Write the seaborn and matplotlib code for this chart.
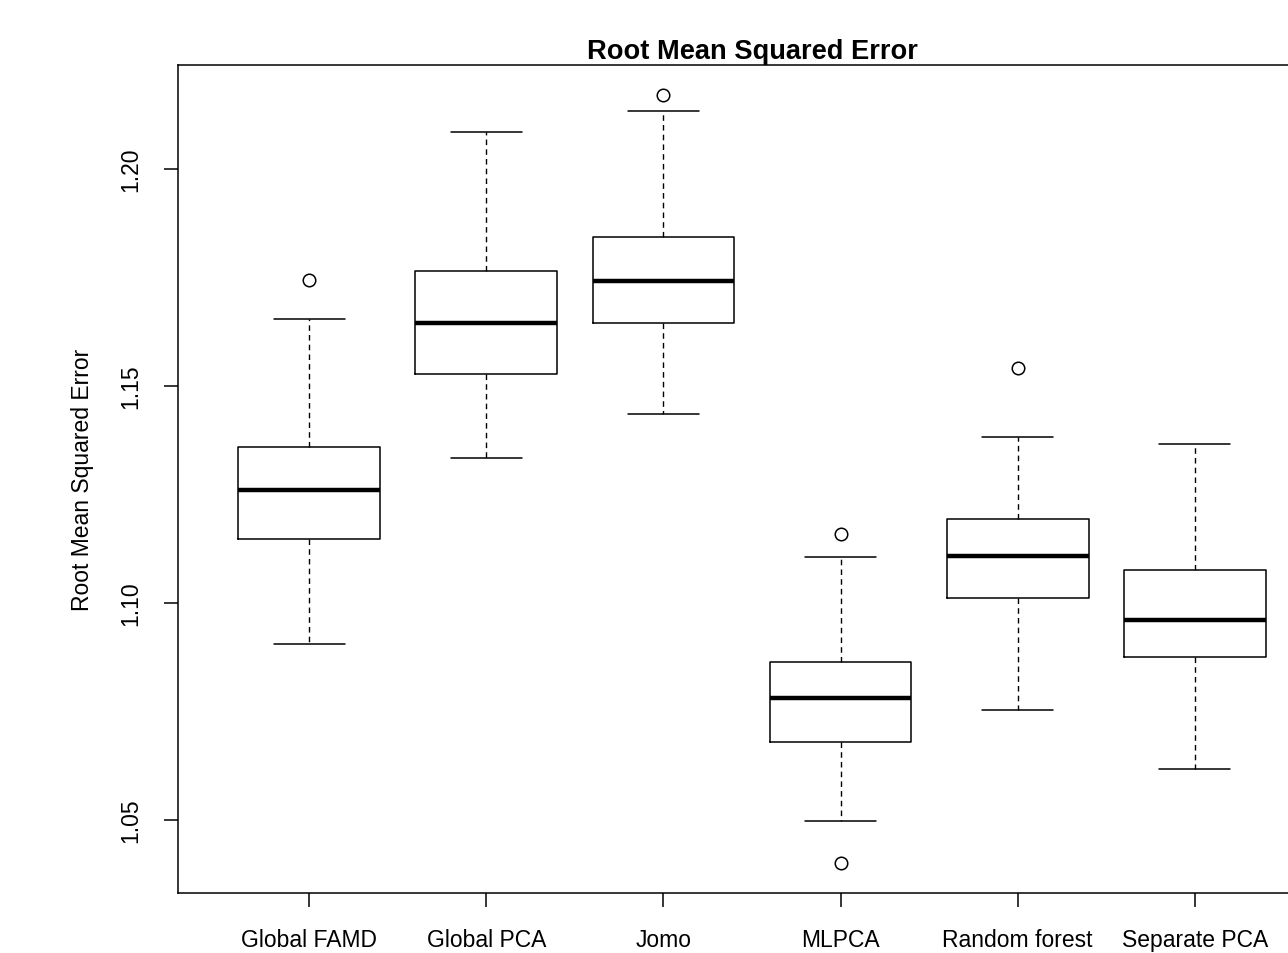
import matplotlib
matplotlib.use('Agg')

import matplotlib.pyplot as plt
import seaborn as sns

# Box summaries (R-style boxplot)
methods = ["Global FAMD", "Global PCA", "Jomo", "MLPCA", "Random forest", "Separate PCA"]
medians = [1.1260, 1.1645, 1.1742, 1.0781, 1.1108, 1.0961]
q1s = [1.1147, 1.1528, 1.1645, 1.0680, 1.1012, 1.0876]
q3s = [1.1359, 1.1765, 1.1843, 1.0864, 1.1194, 1.1076]
whis_lo = [1.0906, 1.1334, 1.1435, 1.0498, 1.0753, 1.0618]
whis_hi = [1.1654, 1.2085, 1.2134, 1.1106, 1.1382, 1.1366]
outliers = [[1.1744], [], [1.2171], [1.1159, 1.0401], [1.1541], []]

sns.set_theme(style="ticks")
plt.rcParams['font.family'] = ['Liberation Sans', 'DejaVu Sans']

stats = []
for i, m in enumerate(methods):
    stats.append(dict(label=m, med=medians[i], q1=q1s[i], q3=q3s[i],
                      whislo=whis_lo[i], whishi=whis_hi[i], fliers=outliers[i]))

fig = plt.figure(figsize=(12.88, 9.54), dpi=100)
W, H = 1288, 954
# R-style plot region; right edge lies past the image border like in the reference
ax = fig.add_axes([178 / W, 60 / H, (1326 - 178) / W, (894 - 66) / H])

ax.bxp(stats, positions=range(1, 7), widths=0.8, showfliers=True,
       boxprops=dict(color='black', linewidth=1.1),
       whiskerprops=dict(color='black', linewidth=1.0, linestyle=(0, (4, 3))),
       capprops=dict(color='black', linewidth=1.1),
       medianprops=dict(color='black', linewidth=3.2),
       flierprops=dict(marker='o', markerfacecolor='none', markeredgecolor='black',
                       markersize=9, markeredgewidth=1.1))

ax.set_xlim(0.26, 6.74)
ax.set_ylim(1.0332, 1.2240)
ax.set_yticks([1.05, 1.10, 1.15, 1.20])
ax.set_yticklabels(["1.05", "1.10", "1.15", "1.20"], rotation=90, va='center')
ax.set_xticks(range(1, 7))
ax.set_xticklabels(methods)

for s in ax.spines.values():
    s.set_visible(True)
    s.set_linewidth(1.1)
    s.set_color('black')

ax.tick_params(axis='both', length=10, width=1.1, color='black', labelsize=16.5,
               labelcolor='black')
ax.tick_params(axis='x', pad=15)
ax.tick_params(axis='y', pad=16)

ax.set_title("Root Mean Squared Error", fontsize=19.6, fontweight='bold', pad=5, color='black')
ax.set_ylabel("Root Mean Squared Error", fontsize=16.5, labelpad=18, color='black')

fig.savefig("out.png", dpi=100)
